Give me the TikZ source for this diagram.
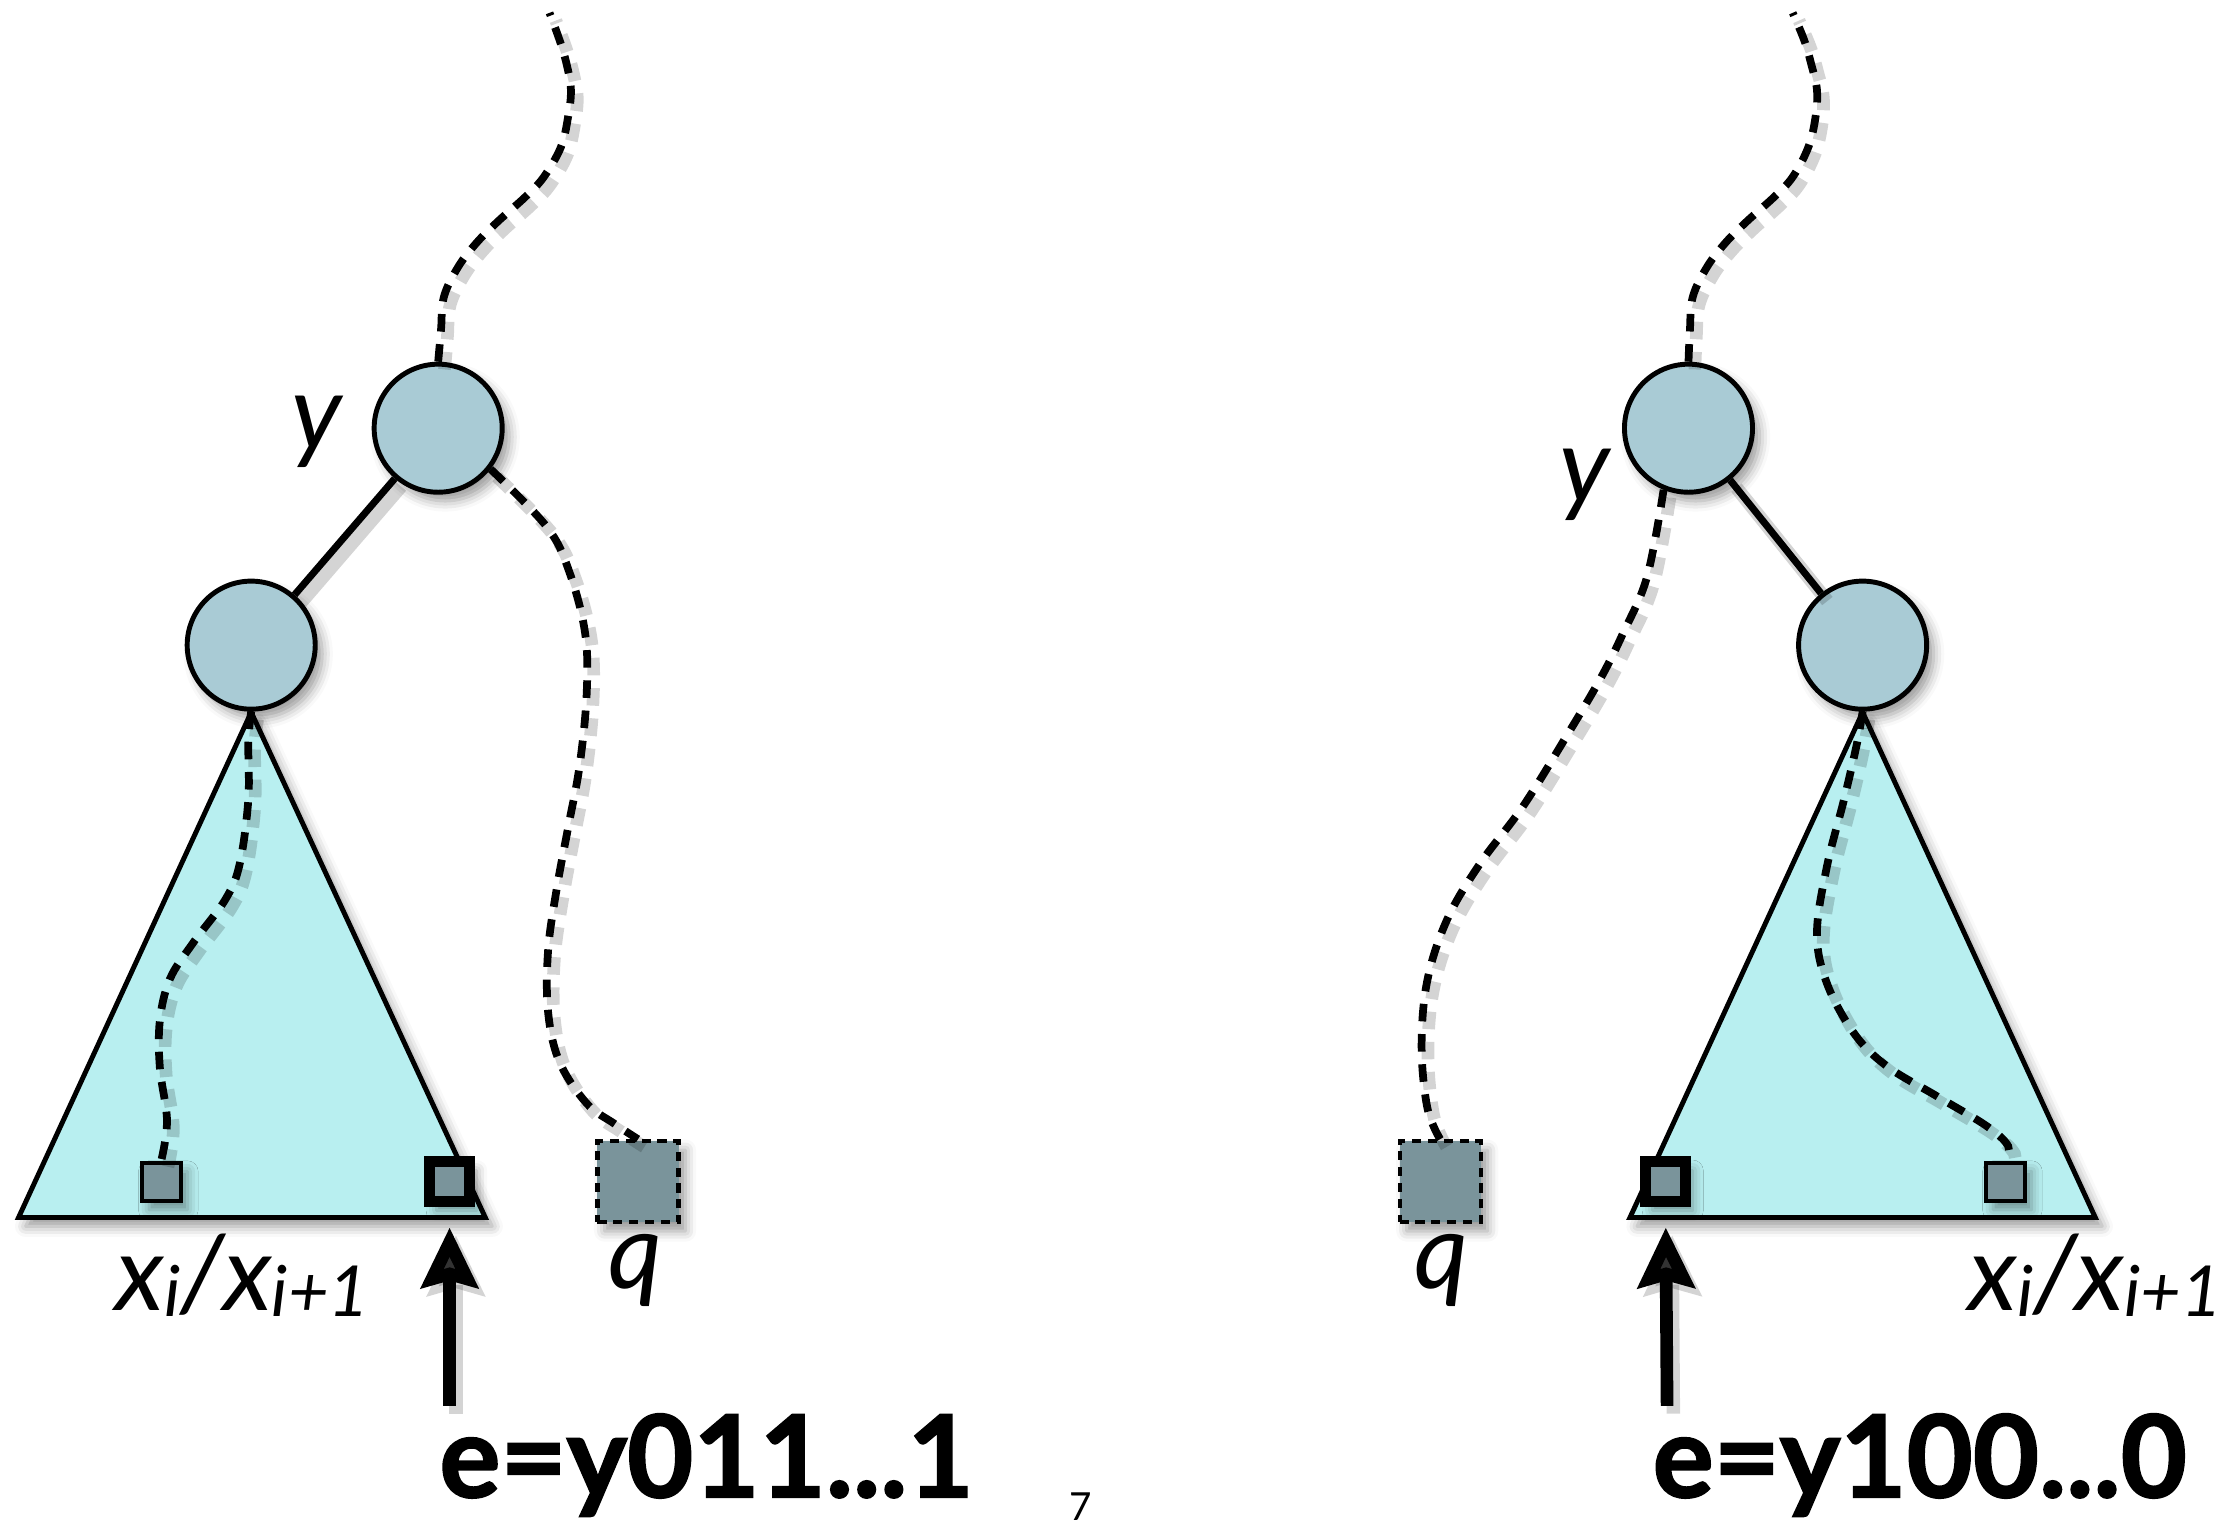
\documentclass[tikz,border=0pt]{standalone}
\usepackage{fontspec}
\setmainfont{Lato}
\newfontfamily\heavyfont{Lato}[BoldFeatures={FakeBold=1.6}]
\usetikzlibrary{arrows.meta,shadows.blur}
\definecolor{nodefill}{HTML}{A9CBD5}
\definecolor{trifill}{HTML}{B8EFF0}
\definecolor{sqfill}{HTML}{7A949B}
\newcommand\sbs[1]{\raisebox{-1.8pt}{\fontsize{20}{20}\selectfont #1}}
\begin{document}
\begin{tikzpicture}[x=0.014273cm, y=-0.014273cm,
  shd/.style={blur shadow={shadow xshift=2pt, shadow yshift=-2.5pt, shadow blur radius=3pt}},
  lshd/.style={preaction={draw=black, opacity=0.17, line width=3.8pt, transform canvas={xshift=1.8pt, yshift=-2.2pt}}},
  dshd/.style={preaction={draw=black, opacity=0.17, line width=3.6pt, dash pattern=on 5pt off 3.6pt, transform canvas={xshift=1.8pt, yshift=-2.2pt}}},
  circ/.style={circle, draw, line width=1.4pt, fill=nodefill, minimum size=1.28cm, inner sep=0pt, shd},
  tri/.style={draw, line width=1.4pt, fill=trifill, line join=miter, shd},
  ssq/.style={rectangle, draw, line width=1.15pt, fill=sqfill, minimum size=0.385cm, inner sep=0pt, shd},
  bsq/.style={rectangle, draw, line width=3.2pt, fill=sqfill, minimum size=0.4cm, inner sep=0pt, shd},
  qsq/.style={rectangle, draw, line width=1.2pt, dash pattern=on 2.6pt off 1.9pt, fill=sqfill, minimum size=0.81cm, inner sep=0pt, shd},
  dline/.style={line width=2.2pt, dash pattern=on 5pt off 3.6pt, dshd},
  sline/.style={line width=2pt, lshd},
  bigarrow/.style={line width=3.6pt, -{Stealth[length=0.6cm, width=0.56cm, inset=0.07cm]}, lshd},
  lab/.style={font=\fontsize{30}{30}\selectfont\itshape, inner sep=0pt, anchor=base},
  etext/.style={font=\fontsize{32.5}{32.5}\selectfont\heavyfont\bfseries, inner sep=0pt, anchor=base},
  pnum/.style={font=\fontsize{11}{11}\selectfont, inner sep=0pt, anchor=base}
]
\useasboundingbox (0,0) rectangle (1568,1067);

% ---------------- left tree ----------------
\path[tri] (176,499) -- (13,853) -- (340,853) -- cycle;
\node[circ] (ya) at (307,300) {};
\node[circ] (xa) at (176,452) {};
\node[ssq] (sa) at (113,828) {};
\node[bsq] (ba) at (315,828) {};
\node[qsq] (qa) at (447,828) {};
\coordinate (ta) at (385,9);
\coordinate (ea) at (315,985);

\draw[sline] (ya) -- (xa);
\draw[dline] plot[smooth, tension=0.6] coordinates {(ya.north) (309,231) (311,208) (321,187) (334,170) (349,155) (368,138) (381,124) (393,103) (398,82) (400,63) (397,45) (392,28) (ta)};
\draw[dline] plot[smooth, tension=0.6] coordinates {(ya.-38) (383,369) (399,401) (410,444) (411,487) (406,537) (398,580) (390,623) (384,666) (384,709) (392,744) (411,773) (430,787) (qa.north)};
\draw[dline] plot[smooth, tension=0.6] coordinates {(xa.south) (174,520) (174,560) (168,605) (158,630) (135,661) (119,686) (112,715) (112,748) (117,785) (sa.north)};
\draw[bigarrow, shorten >=0.2cm] (ea) -- (ba.south);

\node[lab] (ylab) at (222,315) {y};
\node[lab] (qlab) at (445,903) {q};
\node[lab] (xlab) at (170,918) {x\sbs{i}/x\sbs{i+1}};
\node[etext] (ela) at (495,1049) {e=y011...1};

% ---------------- right tree ----------------
\path[tri] (1305,499) -- (1142,853) -- (1468,853) -- cycle;
\node[circ] (yb) at (1183,300) {};
\node[circ] (xb) at (1305,452) {};
\node[ssq] (sb) at (1405,828) {};
\node[bsq] (bb) at (1167,828) {};
\node[qsq] (qb) at (1009,828) {};
\coordinate (tb) at (1256,9);
\coordinate (eb) at (1168,985);

\draw[sline] (yb) -- (xb);
\draw[dline] plot[smooth, tension=0.6] coordinates {(yb.north) (1184,231) (1186,208) (1196,187) (1209,170) (1224,155) (1243,138) (1256,124) (1267,103) (1272,82) (1273,63) (1269,45) (1264,28) (tb)};
\draw[dline] plot[smooth, tension=0.6] coordinates {(yb.-112) (1154,404) (1137,444) (1121,476) (1098,515) (1067,565) (1037,605) (1014,644) (1000,687) (996,733) (1000,776) (qb.north)};
\draw[dline] plot[smooth, tension=0.6] coordinates {(xb.south) (1301,521) (1292,560) (1280,607) (1273,654) (1280,689) (1299,724) (1322,747) (1357,768) (1392,789) (1407,803) (sb.north)};
\draw[bigarrow, shorten >=0.2cm] (eb) -- (bb.south);

\node[lab] (ylb) at (1110,352) {y};
\node[lab] (qlb) at (1010,903) {q};
\node[lab] (xlb) at (1468,918) {x\sbs{i}/x\sbs{i+1}};
\node[etext] (elb) at (1345,1049) {e=y100...0};

\node[pnum] (pg) at (757,1065) {7};
\end{tikzpicture}
\end{document}
